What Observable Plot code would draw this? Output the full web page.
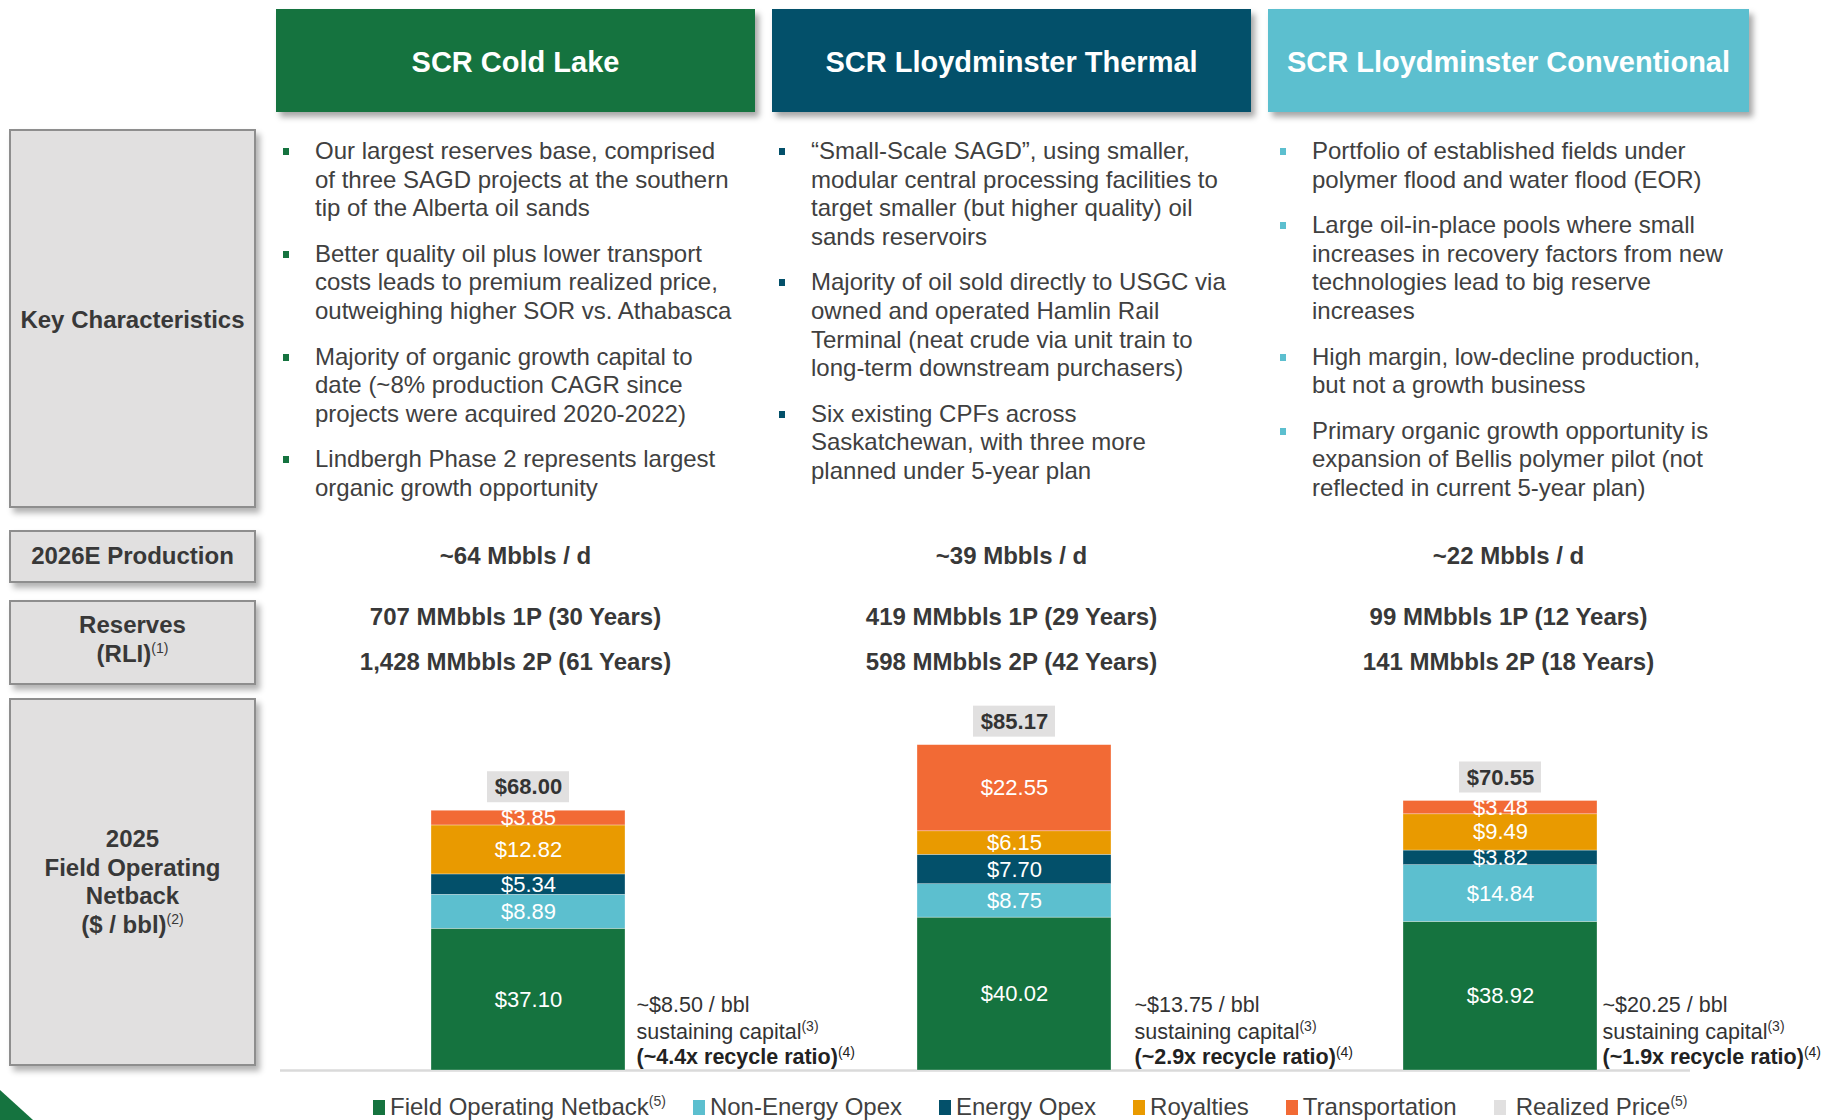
<!DOCTYPE html>
<html>
<head>
<meta charset="utf-8">
<script src="https://cdn.jsdelivr.net/npm/d3@7"></script>
<script src="https://cdn.jsdelivr.net/npm/@observablehq/plot@0.6"></script>
<style>
  html, body { margin: 0; padding: 0; background: #fff; }
  body { font-family: "Liberation Sans", Arial, Helvetica, sans-serif; }
  #page { position: relative; width: 1828px; height: 1120px; overflow: hidden; background: #fff; }
  .hdr { position: absolute; top: 9px; height: 103px; box-sizing: border-box; padding-top: 4px; display: flex; align-items: center; justify-content: center;
         color: #fff; font-weight: bold; font-size: 29px; box-shadow: 4px 5px 6px rgba(0,0,0,0.35); }
  .lbl { position: absolute; left: 9px; width: 247px; box-sizing: border-box; background: #E1E0E0;
         border: 2px solid #8E8E8E; box-shadow: 4px 5px 6px rgba(0,0,0,0.3); display: flex; align-items: center;
         justify-content: center; text-align: center; font-weight: bold; font-size: 24px; color: #383838; line-height: 28.5px; }
  .sup { font-size: 14px; vertical-align: super; line-height: 0; font-weight: normal; }
  .col { position: absolute; top: 137px; font-size: 24px; line-height: 28.6px; color: #404040; }
  .bul { position: relative; padding-left: 32px; margin-bottom: 17px; white-space: nowrap; }
  .bul::before { content: ""; position: absolute; left: 0; top: 11px; width: 6px; height: 7px; background: var(--c); }
  .stat { position: absolute; width: 480px; text-align: center; font-weight: bold; font-size: 24px; line-height: 28px; color: #383838; white-space: nowrap; }
  #chart { position: absolute; left: 0; top: 680px; }
  #legend { position: absolute; left: 373px; top: 1093px; display: flex; gap: 37px; font-size: 24px; line-height: 28px; color: #404040; white-space: nowrap; }
  .lg { display: flex; align-items: center; }
  .lg:first-child { margin-right: -10px; }
  .sw { width: 12px; height: 15px; margin-right: 5px; }
  .lsup { font-size: 14px; vertical-align: super; line-height: 0; }
</style>
</head>
<body>
<div id="page"></div>
<script>
// ---------------- data ----------------
const sites = ["SCR Cold Lake", "SCR Lloydminster Thermal", "SCR Lloydminster Conventional"];
const categories = ["Field Operating Netback", "Non-Energy Opex", "Energy Opex", "Royalties", "Transportation"];
const netback        = [37.10, 40.02, 38.92];
const nonEnergyOpex  = [8.89, 8.75, 14.84];
const energyOpex     = [5.34, 7.70, 3.82];
const royalties      = [12.82, 6.15, 9.49];
const transportation = [3.85, 22.55, 3.48];
const realizedPrice  = [68.00, 85.17, 70.55];
const sustainingCapital = [8.50, 13.75, 20.25];
const recycleRatio   = [4.4, 2.9, 1.9];
const production2026 = [64, 39, 22];
const reserves1P = ["707", "419", "99"];
const years1P    = [30, 29, 12];
const reserves2P = ["1,428", "598", "141"];
const years2P    = [61, 42, 18];
const rowLabels = ["Key Characteristics", "2026E Production", "Reserves", "2025 Field Operating Netback"];
const bullets = [
  [["Our largest reserves base, comprised", "of three SAGD projects at the southern", "tip of the Alberta oil sands"],
   ["Better quality oil plus lower transport", "costs leads to premium realized price,", "outweighing higher SOR vs. Athabasca"],
   ["Majority of organic growth capital to", "date (~8% production CAGR since", "projects were acquired 2020-2022)"],
   ["Lindbergh Phase 2 represents largest", "organic growth opportunity"]],
  [["\u201CSmall-Scale SAGD\u201D, using smaller,", "modular central processing facilities to", "target smaller (but higher quality) oil", "sands reservoirs"],
   ["Majority of oil sold directly to USGC via", "owned and operated Hamlin Rail", "Terminal (neat crude via unit train to", "long-term downstream purchasers)"],
   ["Six existing CPFs across", "Saskatchewan, with three more", "planned under 5-year plan"]],
  [["Portfolio of established fields under", "polymer flood and water flood (EOR)"],
   ["Large oil-in-place pools where small", "increases in recovery factors from new", "technologies lead to big reserve", "increases"],
   ["High margin, low-decline production,", "but not a growth business"],
   ["Primary organic growth opportunity is", "expansion of Bellis polymer pilot (not", "reflected in current 5-year plan)"]]
];

// ---------------- styles ----------------
const siteColors = ["#15733F", "#03506A", "#5CBFCF"];
const categoryColors = ["#15733F", "#5CBFCF", "#03506A", "#E99A00", "#F26A35"];
const priceBoxColor = "#E1E0E0";
const FONT = '"Liberation Sans", Arial, Helvetica, sans-serif';

// ---------------- layout ----------------
const page = document.getElementById("page");
const colLeft = [276, 772, 1268];
const colWidth = [479, 479, 481];
const bulletIndent = [7, 7, 12];
const annotDx = [108, 120, 102];

sites.forEach((s, i) => {
  const h = document.createElement("div");
  h.className = "hdr";
  h.style.left = colLeft[i] + "px";
  h.style.width = colWidth[i] + "px";
  h.style.background = siteColors[i];
  h.textContent = s;
  page.appendChild(h);

  const col = document.createElement("div");
  col.className = "col";
  col.style.left = (colLeft[i] + bulletIndent[i]) + "px";
  bullets[i].forEach(lines => {
    const b = document.createElement("div");
    b.className = "bul";
    b.style.setProperty("--c", siteColors[i]);
    b.innerHTML = lines.join("<br>");
    col.appendChild(b);
  });
  page.appendChild(col);

  const center = colLeft[i] + colWidth[i] / 2;
  const mk = (top, txt) => {
    const d = document.createElement("div");
    d.className = "stat";
    d.style.left = (center - 240) + "px";
    d.style.top = top + "px";
    d.textContent = txt;
    page.appendChild(d);
  };
  mk(542, `~${production2026[i]} Mbbls / d`);
  mk(603, `${reserves1P[i]} MMbbls 1P (${years1P[i]} Years)`);
  mk(648, `${reserves2P[i]} MMbbls 2P (${years2P[i]} Years)`);
});

const lblBoxes = [
  {top: 129, height: 379, html: rowLabels[0], pad: 4},
  {top: 530, height: 53, html: rowLabels[1], pad: 0},
  {top: 600, height: 85, html: rowLabels[2] + '<br>(RLI)<span class="sup">(1)</span>', pad: -6},
  {top: 698, height: 368, html: '2025<br>Field Operating<br>Netback<br>($ / bbl)<span class="sup">(2)</span>', pad: 0}
];
lblBoxes.forEach(b => {
  const d = document.createElement("div");
  d.className = "lbl";
  d.style.top = b.top + "px";
  d.style.height = b.height + "px";
  d.innerHTML = `<div style="position:relative;top:${b.pad/2}px">${b.html}</div>`;
  page.appendChild(d);
});

// corner triangle
page.insertAdjacentHTML("beforeend",
  '<svg style="position:absolute;left:0;top:1088px" width="40" height="32"><polygon points="0,2 33,32 0,32" fill="#15733F"/></svg>');

// ---------------- chart ----------------
const seriesValues = [netback, nonEnergyOpex, energyOpex, royalties, transportation];
const rows = [];
sites.forEach((s, i) => categories.forEach((c, k) => rows.push({site: s, category: c, value: seriesValues[k][i]})));
const totals = sites.map((s, i) => ({site: s, total: realizedPrice[i], capex: sustainingCapital[i], ratio: recycleRatio[i]}));
const money = v => "$" + v.toFixed(2);

const annotationMarks = totals.flatMap((t, i) => {
  const one = [t];
  const base = {x: "site", y: () => 0, dx: annotDx[i], textAnchor: "start", fontSize: 21.5};
  return [
    Plot.text(one, {...base, dy: -65, fill: "#333", text: d => `~$${d.capex.toFixed(2)} / bbl`}),
    Plot.text(one, {...base, dy: -38.5, fill: "#333", text: () => "sustaining capital^(3)"}),
    Plot.text(one, {...base, dy: -13, fill: "#222", fontWeight: "bold", text: d => `(~${d.ratio.toFixed(1)}x recycle ratio)^(4)`})
  ];
});

const chart = Plot.plot({
  width: 1828,
  height: 440,
  marginLeft: 430,
  marginRight: 230,
  marginTop: 8,
  marginBottom: 50,
  x: {domain: sites, paddingInner: 0.6016, paddingOuter: 0, axis: null},
  y: {domain: [0, 100], axis: null},
  color: {domain: categories, range: categoryColors},
  style: {fontFamily: FONT, overflow: "visible", background: "transparent"},
  marks: [
    Plot.ruleY([0], {stroke: "#DADADA", strokeWidth: 2.5, insetLeft: -150, insetRight: -92}),
    Plot.barY(rows, {x: "site", y: "value", fill: "category", z: "category", stroke: "white", strokeWidth: 0.6, strokeOpacity: 0.5}),
    Plot.text(rows, Plot.stackY({x: "site", y: "value", z: "category", text: d => money(d.value), fill: "white", fontSize: 22})),
    Plot.barY(totals, {x: "site", y1: "total", y2: "total", fill: priceBoxColor, insetTop: -39, insetBottom: 8, insetLeft: 56, insetRight: 56}),
    Plot.text(totals, {x: "site", y: "total", dy: -23.5, text: d => money(d.total), fontWeight: "bold", fontSize: 22, fill: "#333"}),
    ...annotationMarks
  ]
});
chart.id = "chart";
chart.querySelectorAll("text").forEach(t => {
  const s = t.textContent;
  if (s.includes("^")) {
    const [a, b] = s.split("^");
    t.textContent = a;
    const ts = document.createElementNS("http://www.w3.org/2000/svg", "tspan");
    ts.setAttribute("dy", "-0.55em");
    ts.setAttribute("font-size", "14px");
    ts.setAttribute("font-weight", "normal");
    ts.textContent = b;
    t.appendChild(ts);
  }
});
page.appendChild(chart);

// ---------------- legend ----------------
const legend = document.createElement("div");
legend.id = "legend";
const legendItems = categories.map((c, k) => ({label: c, color: categoryColors[k], sup: k === 0 ? "(5)" : ""}))
  .concat([{label: "Realized Price", color: priceBoxColor, sup: "(5)"}]);
legendItems.forEach((it, k) => {
  const d = document.createElement("div");
  d.className = "lg";
  const swStyle = k === legendItems.length - 1 ? `background:${it.color};margin-right:10px` : `background:${it.color}`;
  d.innerHTML = `<span class="sw" style="${swStyle}"></span><span>${it.label}${it.sup ? `<span class="lsup">${it.sup}</span>` : ""}</span>`;
  legend.appendChild(d);
});
page.appendChild(legend);
</script>
</body>
</html>
